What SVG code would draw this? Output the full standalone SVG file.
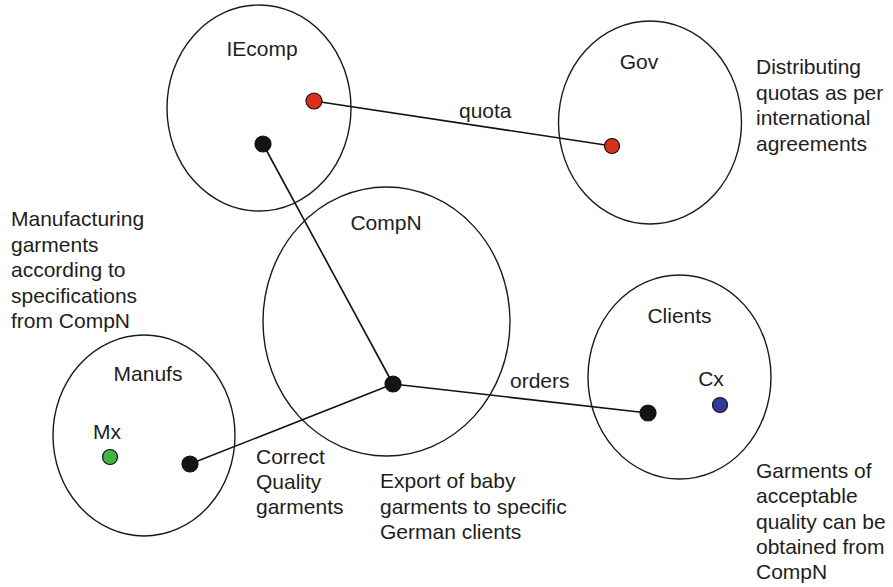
<svg xmlns="http://www.w3.org/2000/svg" width="893" height="587" viewBox="0 0 893 587">
  <style>
    .set { fill: none; stroke: #1a1a1a; stroke-width: 1.4; }
    .link { fill: none; stroke: #111; stroke-width: 1.6; }
    .dot { stroke: #111; stroke-width: 1.2; }
    .blk { fill: #141414; }
    .red { fill: #d9301c; }
    .grn { fill: #3fb441; }
    .blu { fill: #2f3a9c; }
    text { font-family: "Liberation Sans", Arial, Helvetica, sans-serif; font-size: 21px; fill: #1e1e1e; }
    .mid { text-anchor: middle; }
  </style>
  <rect width="893" height="587" fill="#fff"/>

  <!-- connectors -->
  <g id="connectors">
    <line class="link" x1="314" y1="101" x2="612" y2="146"/>
    <line class="link" x1="263" y1="144" x2="393" y2="384"/>
    <line class="link" x1="393" y1="384" x2="190" y2="464"/>
    <line class="link" x1="393" y1="384" x2="648" y2="413"/>
    <text x="459" y="118">quota</text>
    <text x="510" y="388">orders</text>
  </g>

  <g id="IEcomp">
    <ellipse class="set" cx="259" cy="108" rx="92" ry="103"/>
    <text class="mid" x="262" y="56">IEcomp</text>
    <circle class="dot red" cx="314" cy="101" r="8"/>
    <circle class="dot blk" cx="263" cy="144" r="8"/>
  </g>

  <g id="Gov">
    <ellipse class="set" cx="650" cy="122.5" rx="91.5" ry="101.5"/>
    <text class="mid" x="639" y="69">Gov</text>
    <circle class="dot red" cx="612" cy="146" r="7.5"/>
  </g>

  <g id="CompN">
    <ellipse class="set" cx="386.5" cy="321.5" rx="123.5" ry="134.5"/>
    <text class="mid" x="386" y="230">CompN</text>
    <circle class="dot blk" cx="393" cy="384" r="8"/>
  </g>

  <g id="Manufs">
    <ellipse class="set" cx="144" cy="435.5" rx="91" ry="100.5"/>
    <text class="mid" x="148" y="381">Manufs</text>
    <text class="mid" x="107" y="439">Mx</text>
    <circle class="dot grn" cx="110" cy="457" r="7.5"/>
    <circle class="dot blk" cx="190" cy="464" r="8"/>
  </g>

  <g id="Clients">
    <ellipse class="set" cx="679.5" cy="377" rx="91.5" ry="102"/>
    <text class="mid" x="679.5" y="323">Clients</text>
    <text class="mid" x="711" y="386">Cx</text>
    <circle class="dot blu" cx="720" cy="405" r="7.5"/>
    <circle class="dot blk" cx="648" cy="413" r="8"/>
  </g>

  <!-- notes -->
  <g id="note-gov">
    <text x="756" y="74">Distributing</text>
    <text x="756" y="99.5">quotas as per</text>
    <text x="756" y="125">international</text>
    <text x="756" y="150.5">agreements</text>
  </g>
  <g id="note-manufs">
    <text x="11" y="226">Manufacturing</text>
    <text x="11" y="251.5">garments</text>
    <text x="11" y="277">according to</text>
    <text x="11" y="302.5">specifications</text>
    <text x="11" y="328">from CompN</text>
  </g>
  <g id="note-link">
    <text x="256" y="464">Correct</text>
    <text x="256" y="489">Quality</text>
    <text x="256" y="514">garments</text>
  </g>
  <g id="note-compn">
    <text x="380" y="488">Export of baby</text>
    <text x="380" y="513.5">garments to specific</text>
    <text x="380" y="539">German clients</text>
  </g>
  <g id="note-clients">
    <text x="756" y="478">Garments of</text>
    <text x="756" y="503">acceptable</text>
    <text x="756" y="528.5">quality can be</text>
    <text x="756" y="553.5">obtained from</text>
    <text x="756" y="578.5">CompN</text>
  </g>
</svg>
